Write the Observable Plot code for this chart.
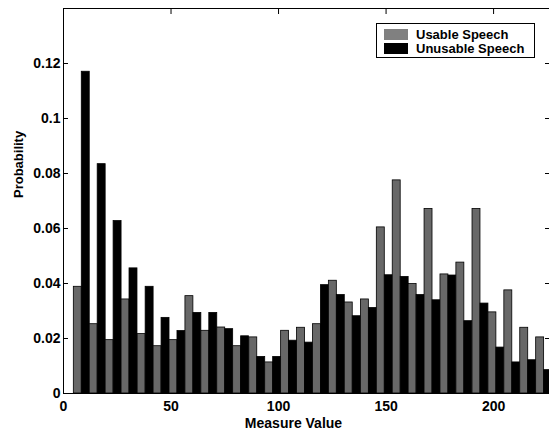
<!DOCTYPE html>
<html>
<head>
<meta charset="utf-8">
<script src="https://cdn.jsdelivr.net/npm/d3@7"></script>
<script src="https://cdn.jsdelivr.net/npm/@observablehq/plot@0.6"></script>
<style>
  body { margin: 0; background: #fff; }
  #wrap { position: relative; width: 549px; height: 430px; font-family: "Liberation Sans", Arial, sans-serif; font-weight: bold; }
  #legend { position: absolute; left: 376px; top: 23px; width: 157px; height: 33px; border: 1px solid #000; background: #fff; font-size: 13px; }
  .row { position: absolute; left: 7px; height: 11px; display: flex; align-items: center; }
  .sw { width: 24px; height: 11px; margin-right: 8px; }
</style>
</head>
<body>
<div id="wrap"></div>
<script>
// Bin centres (Measure Value)
const binCenters = [8.5, 15.9, 23.3, 30.7, 38.2, 45.6, 53.0, 60.4, 67.8, 75.2,
  82.6, 90.1, 97.5, 104.9, 112.3, 119.7, 127.1, 134.5, 142.0, 149.4,
  156.8, 164.2, 171.6, 179.0, 186.4, 193.9, 201.3, 208.7, 216.1, 223.5];
// Probability per bin
const usable = [0.0388, 0.0252, 0.0194, 0.0342, 0.0216, 0.0172, 0.0194, 0.0354, 0.0228, 0.0240,
  0.0172, 0.0204, 0.0113, 0.0228, 0.0239, 0.0252, 0.0410, 0.0331, 0.0342, 0.0604,
  0.0775, 0.0398, 0.0671, 0.0433, 0.0476, 0.0671, 0.0295, 0.0375, 0.0239, 0.0204];
const unusable = [0.1170, 0.0834, 0.0627, 0.0455, 0.0388, 0.0275, 0.0227, 0.0293, 0.0293, 0.0234,
  0.0208, 0.0133, 0.0133, 0.0192, 0.0185, 0.0394, 0.0358, 0.0281, 0.0311, 0.0430,
  0.0424, 0.0358, 0.0339, 0.0429, 0.0263, 0.0327, 0.0167, 0.0113, 0.0121, 0.0085];
const seriesNames = ["Usable Speech", "Unusable Speech"];
const xTicks = [0, 50, 100, 150, 200];
const yTicks = [0, 0.02, 0.04, 0.06, 0.08, 0.1, 0.12];

const half = 3.7; // half of group spacing (each bar width)
const rows = [];
binCenters.forEach((c, i) => {
  rows.push({series: seriesNames[0], x1: c - half, x2: c, y: usable[i]});
  rows.push({series: seriesNames[1], x1: c, x2: c + half, y: unusable[i]});
});

const noText = () => "";
const chart = Plot.plot({
  width: 549,
  height: 430,
  marginLeft: 63,
  marginRight: 0,
  marginTop: 8,
  marginBottom: 37,
  style: {fontFamily: "Liberation Sans, Arial, sans-serif", fontWeight: "bold", fontSize: "14px", background: "#fff", color: "#000"},
  x: {domain: [0, 226]},
  y: {domain: [0, 0.14]},
  color: {domain: seriesNames, range: ["#686868", "#000000"]},
  marks: [
    Plot.rectY(rows, {x1: "x1", x2: "x2", y: "y", fill: "series", stroke: "#000", strokeWidth: 0.8, clip: true}),
    Plot.ruleX([0], {stroke: "#000", strokeWidth: 1}),
    Plot.ruleY([0, 0.14], {stroke: "#000", strokeWidth: 1}),
    // labels
    Plot.axisX({ticks: xTicks, anchor: "bottom", tickSize: 0, tickPadding: 8, label: null, tickFormat: d => String(d)}),
    Plot.axisY({ticks: yTicks, anchor: "left", tickSize: 0, tickPadding: 3, label: null, tickFormat: d => String(+d.toFixed(2))}),
    // inward ticks
    Plot.axisX({ticks: xTicks, anchor: "top", tickSize: 5, dy: 5, tickFormat: noText, label: null, stroke: "#000"}),
    Plot.axisY({ticks: yTicks, anchor: "left", tickSize: 5, dx: 5, tickFormat: noText, label: null, stroke: "#000"}),
    Plot.axisY({ticks: yTicks, anchor: "right", tickSize: 5, dx: -5, tickFormat: noText, label: null, stroke: "#000"}),
    Plot.text(["Measure Value"], {frameAnchor: "bottom", dy: 34, dx: -13, fontSize: 14, fontWeight: "bold"}),
    Plot.text(["Probability"], {frameAnchor: "left", rotate: -90, dx: -45, dy: -3, fontSize: 13, fontWeight: "bold"})
  ]
});

const wrap = document.getElementById("wrap");
wrap.appendChild(chart);
const legend = document.createElement("div");
legend.id = "legend";
const legendColors = ["#808080", "#000000"];
seriesNames.forEach((name, i) => {
  const row = document.createElement("div");
  row.className = "row";
  row.style.top = (5 + i * 14) + "px";
  const sw = document.createElement("div");
  sw.className = "sw";
  sw.style.background = legendColors[i];
  const label = document.createElement("span");
  label.textContent = name;
  row.appendChild(sw);
  row.appendChild(label);
  legend.appendChild(row);
});
wrap.appendChild(legend);
</script>
</body>
</html>
